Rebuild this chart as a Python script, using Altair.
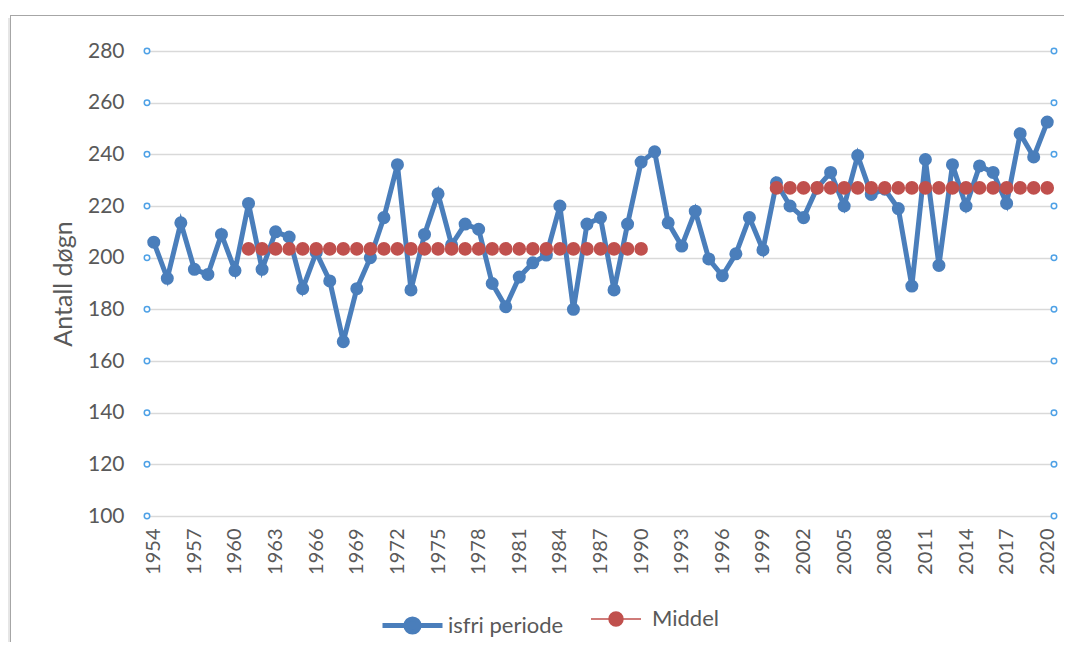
import altair as alt
import pandas as pd

years = list(range(1954, 2021))
isfri = [206, 192, 213.5, 195.5, 193.5, 209, 195, 221, 195.5, 210,
         208, 188, 202, 191, 167.5, 188, 200, 215.5, 236, 187.5,
         209, 224.7, 205, 213, 211, 190, 181, 192.5, 198, 201,
         220, 180, 213, 215.5, 187.5, 213, 237, 241, 213.5, 204.5,
         218, 199.5, 193, 201.5, 215.5, 203, 229, 220, 215.5, 227,
         233, 220, 239.5, 224.5, 226.5, 219, 189, 238, 197, 236,
         220, 235.5, 233, 221, 248, 239, 252.5]

# Middel (mean) periods: start year, end year, mean value
middel_periods = [(1961, 1990, 203.4), (2000, 2020, 227.0)]

x_tick_years = list(range(1954, 2021, 3))
y_ticks = [100, 120, 140, 160, 180, 200, 220, 240, 260, 280]
series_names = ["isfri periode", "Middel"]
BLUE = "#4a7ebb"
RED = "#c0504d"

df_line = pd.DataFrame({"year": years, "value": isfri, "series": series_names[0]})
mid_rows = []
for a, b, v in middel_periods:
    for y in range(a, b + 1):
        mid_rows.append({"year": y, "value": v, "series": series_names[1]})
df_mid = pd.DataFrame(mid_rows)
df_ticks = pd.DataFrame({"value": y_ticks})

W, H = 907, 465
FONT = "Lato"
GREY = "#595959"

x_enc = alt.X(
    "year:Q",
    scale=alt.Scale(domain=[1953.5, 2020.5], nice=False, zero=False),
    axis=alt.Axis(values=x_tick_years, format="d", labelAngle=270, grid=False,
                  ticks=False, domain=False, labelFontSize=20, labelColor=GREY,
                  labelPadding=12, title=None, labelFont=FONT, labelOverlap=False),
)
y_enc = alt.Y(
    "value:Q",
    scale=alt.Scale(domain=[100, 280], nice=False, zero=False),
    axis=alt.Axis(values=y_ticks, grid=True, gridColor="#d9d9d9", gridWidth=1.5,
                  ticks=False, domain=False, labelFontSize=21, labelColor=GREY,
                  labelFont=FONT, labelPadding=23, title="Antall døgn",
                  titleFontSize=25, titleFontWeight="normal", titleColor=GREY,
                  titleFont=FONT, titlePadding=11),
)

legend_common = dict(orient="none", legendY=542, direction="horizontal",
                     title=None, labelFontSize=22, labelColor=GREY, labelFont=FONT,
                     symbolOpacity=1)

frame_shadow = alt.Chart(df_ticks).mark_rule(
    stroke="#e6e6e6", strokeWidth=4
).encode(x=alt.value(-139.5), y=alt.value(-33), y2=alt.value(900))
frame = alt.Chart(df_ticks).mark_rect(
    fill="transparent", stroke="#a6a6a6", strokeWidth=1
).encode(x=alt.value(-136.5), x2=alt.value(1200), y=alt.value(-35.5), y2=alt.value(900))

line = alt.Chart(df_line).mark_line(strokeWidth=5).encode(
    x=x_enc, y=y_enc,
    stroke=alt.Stroke("series:N", scale=alt.Scale(domain=[series_names[0]], range=[BLUE]),
                      legend=alt.Legend(legendX=233, symbolStrokeWidth=5,
                                        symbolType="M-1,0H1M0.22,0A0.22,0.22,0,1,1,-0.22,0A0.22,0.22,0,1,1,0.22,0Z",
                                        symbolSize=3600, labelOffset=3,
                                        symbolFillColor=BLUE, **legend_common)),
)
line_pts = alt.Chart(df_line).mark_circle(size=170, opacity=1, color=BLUE).encode(
    x="year:Q", y="value:Q")

mid = alt.Chart(df_mid).mark_circle(size=185, opacity=1).encode(
    x="year:Q", y="value:Q",
    fill=alt.Fill("series:N", scale=alt.Scale(domain=[series_names[1]], range=[RED]),
                  legend=alt.Legend(legendX=443, symbolStrokeWidth=1.5,
                                    symbolType="M-1,0H1M0.28,0A0.28,0.28,0,1,1,-0.28,0A0.28,0.28,0,1,1,0.28,0Z",
                                    symbolSize=2500, labelOffset=10,
                                    symbolStrokeColor=RED, **legend_common)),
)

end_left = alt.Chart(df_ticks).mark_point(
    shape="circle", filled=True, fill="white", stroke="#4ea1e6", strokeWidth=1.5,
    size=30, opacity=1
).encode(x=alt.value(0), y="value:Q")
end_right = alt.Chart(df_ticks).mark_point(
    shape="circle", filled=True, fill="white", stroke="#4ea1e6", strokeWidth=1.5,
    size=30, opacity=1
).encode(x=alt.value(W), y="value:Q")

chart = alt.layer(frame_shadow, frame, line, line_pts, mid, end_left, end_right).properties(
    width=W, height=H,
    autosize=alt.AutoSizeParams(type="none"),
    padding={"left": 139, "top": 43, "right": 10, "bottom": 126},
    background="white",
).resolve_scale(stroke="independent", fill="independent").configure_view(stroke=None)

chart.save("out.html", embed_options={"renderer": "svg", "actions": False})
